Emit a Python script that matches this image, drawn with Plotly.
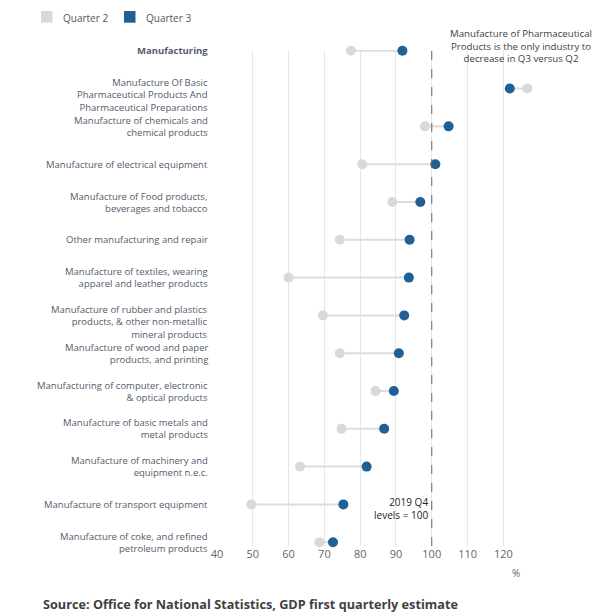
import plotly.graph_objects as go

categories = [
    "<b>Manufacturing</b>",
    "Manufacture Of Basic<br>Pharmaceutical Products And<br>Pharmaceutical Preparations",
    "Manufacture of chemicals and<br>chemical products",
    "Manufacture of electrical equipment",
    "Manufacture of Food products,<br>beverages and tobacco",
    "Other manufacturing and repair",
    "Manufacture of textiles, wearing<br>apparel and leather products",
    "Manufacture of rubber and plastics<br>products, & other non-metallic<br>mineral products",
    "Manufacture of wood and paper<br>products, and printing",
    "Manufacturing of computer, electronic<br>& optical products",
    "Manufacture of basic metals and<br>metal products",
    "Manufacture of machinery and<br>equipment n.e.c.",
    "Manufacture of transport equipment",
    "Manufacture of coke, and refined<br>petroleum products",
]
quarter2 = [77.4, 126.7, 98.1, 80.6, 89.0, 74.3, 60.0, 69.6, 74.3, 84.3, 74.8, 63.2, 49.6, 68.6]
quarter3 = [91.8, 121.8, 104.7, 101.0, 96.8, 93.8, 93.6, 92.3, 90.8, 89.4, 86.7, 81.8, 75.3, 72.4]
series_names = ["Quarter 2", "Quarter 3"]
x_ticks = [40, 50, 60, 70, 80, 90, 100, 110, 120]

FONT = "Open Sans"
LABEL_COLOR = "#545b6c"
Q2_COLOR = "#d9d9d9"
Q3_COLOR = "#206095"
LABEL_SIZE = 9.5

# layout geometry (pixels)
W, H = 606, 613
ML, MR, MT, MB = 217, 74, 50, 67
PW, PH = W - ML - MR, H - MT - MB


def px_x(px):
    return (px - ML) / PW


def px_y(py):
    return (H - MB - py) / PH


rows = list(range(len(categories)))

line_x, line_y = [], []
for r, a, b in zip(rows, quarter2, quarter3):
    line_x += [a, b, None]
    line_y += [r, r, None]

fig = go.Figure()
fig.add_trace(go.Scatter(x=line_x, y=line_y, mode="lines",
                         line=dict(color="#dcdcdc", width=2),
                         showlegend=False, hoverinfo="skip", cliponaxis=False))
fig.add_trace(go.Scatter(x=quarter2, y=rows, mode="markers",
                         marker=dict(color=Q2_COLOR, size=10),
                         showlegend=False, cliponaxis=False, name=series_names[0]))
fig.add_trace(go.Scatter(x=quarter3, y=rows, mode="markers",
                         marker=dict(color=Q3_COLOR, size=10),
                         showlegend=False, cliponaxis=False, name=series_names[1]))

annotations = []
line_h = 1.3 * LABEL_SIZE
for r, cat in zip(rows, categories):
    n = len(cat.split("<br>"))
    first_off = 0 if n == 1 else -6
    center_off = first_off + (n - 1) * line_h / 2
    annotations.append(dict(
        x=0, xref="paper", y=r, yref="y", text=cat, showarrow=False,
        xanchor="right", yanchor="middle", align="right", xshift=-7, yshift=-center_off,
        font=dict(family=FONT, size=LABEL_SIZE, color=LABEL_COLOR)))

# custom legend (square swatches)
shapes = []
legend_spec = [(series_names[0], Q2_COLOR, 41, 61), (series_names[1], Q3_COLOR, 124, 144)]
for name, col, sx, tx in legend_spec:
    shapes.append(dict(type="rect", xref="paper", yref="paper",
                       x0=px_x(sx), x1=px_x(sx + 11.5), y0=px_y(22.7), y1=px_y(11),
                       fillcolor=col, line=dict(width=0)))
    annotations.append(dict(x=px_x(tx), xref="paper", y=px_y(17.5), yref="paper",
                            text=name, showarrow=False, xanchor="left", yanchor="middle",
                            font=dict(family=FONT, size=10, color="#555555")))

annotations.append(dict(
    x=125, xref="x", y=px_y(46.5), yref="paper",
    text="Manufacture of Pharmaceutical<br>Products is the only industry to<br>decrease in Q3 versus Q2",
    showarrow=False, xanchor="center", yanchor="middle", align="center",
    font=dict(family=FONT, size=9.7, color="#414042")))
annotations.append(dict(
    x=100, xref="x", y=12.1, yref="y", text="2019 Q4<br>levels = 100",
    showarrow=False, xanchor="right", yanchor="middle", align="right", xshift=-2,
    font=dict(family=FONT, size=10, color="#222222")))
annotations.append(dict(
    x=123.6, xref="x", y=px_y(573), yref="paper", text="%", showarrow=False,
    xanchor="center", yanchor="middle",
    font=dict(family=FONT, size=10, color="#666666")))
annotations.append(dict(
    x=px_x(41), xref="paper", y=px_y(604), yref="paper",
    text="<b>Source: Office for National Statistics, GDP first quarterly estimate</b>",
    showarrow=False, xanchor="left", yanchor="middle",
    font=dict(family=FONT, size=12.7, color="#414042")))

shapes.append(dict(type="line", x0=100, x1=100, y0=0, y1=1, xref="x", yref="paper",
                   line=dict(color="#666666", width=1, dash="dash"), layer="above"))

fig.update_layout(
    width=W, height=H,
    margin=dict(l=ML, r=MR, t=MT, b=MB),
    paper_bgcolor="white", plot_bgcolor="white",
    font=dict(family=FONT, size=11, color="#666666"),
    xaxis=dict(range=[40, 128], tickvals=x_ticks, showgrid=True, gridcolor="#e6e6e6",
               gridwidth=1, zeroline=False, showline=False, ticks="",
               tickfont=dict(family=FONT, size=11, color="#666666"), fixedrange=True),
    yaxis=dict(range=[13.1, -0.02], showticklabels=False, showgrid=False,
               zeroline=False, showline=False, fixedrange=True),
    showlegend=False,
    shapes=shapes,
    annotations=annotations,
)

fig.write_html("out.html")
